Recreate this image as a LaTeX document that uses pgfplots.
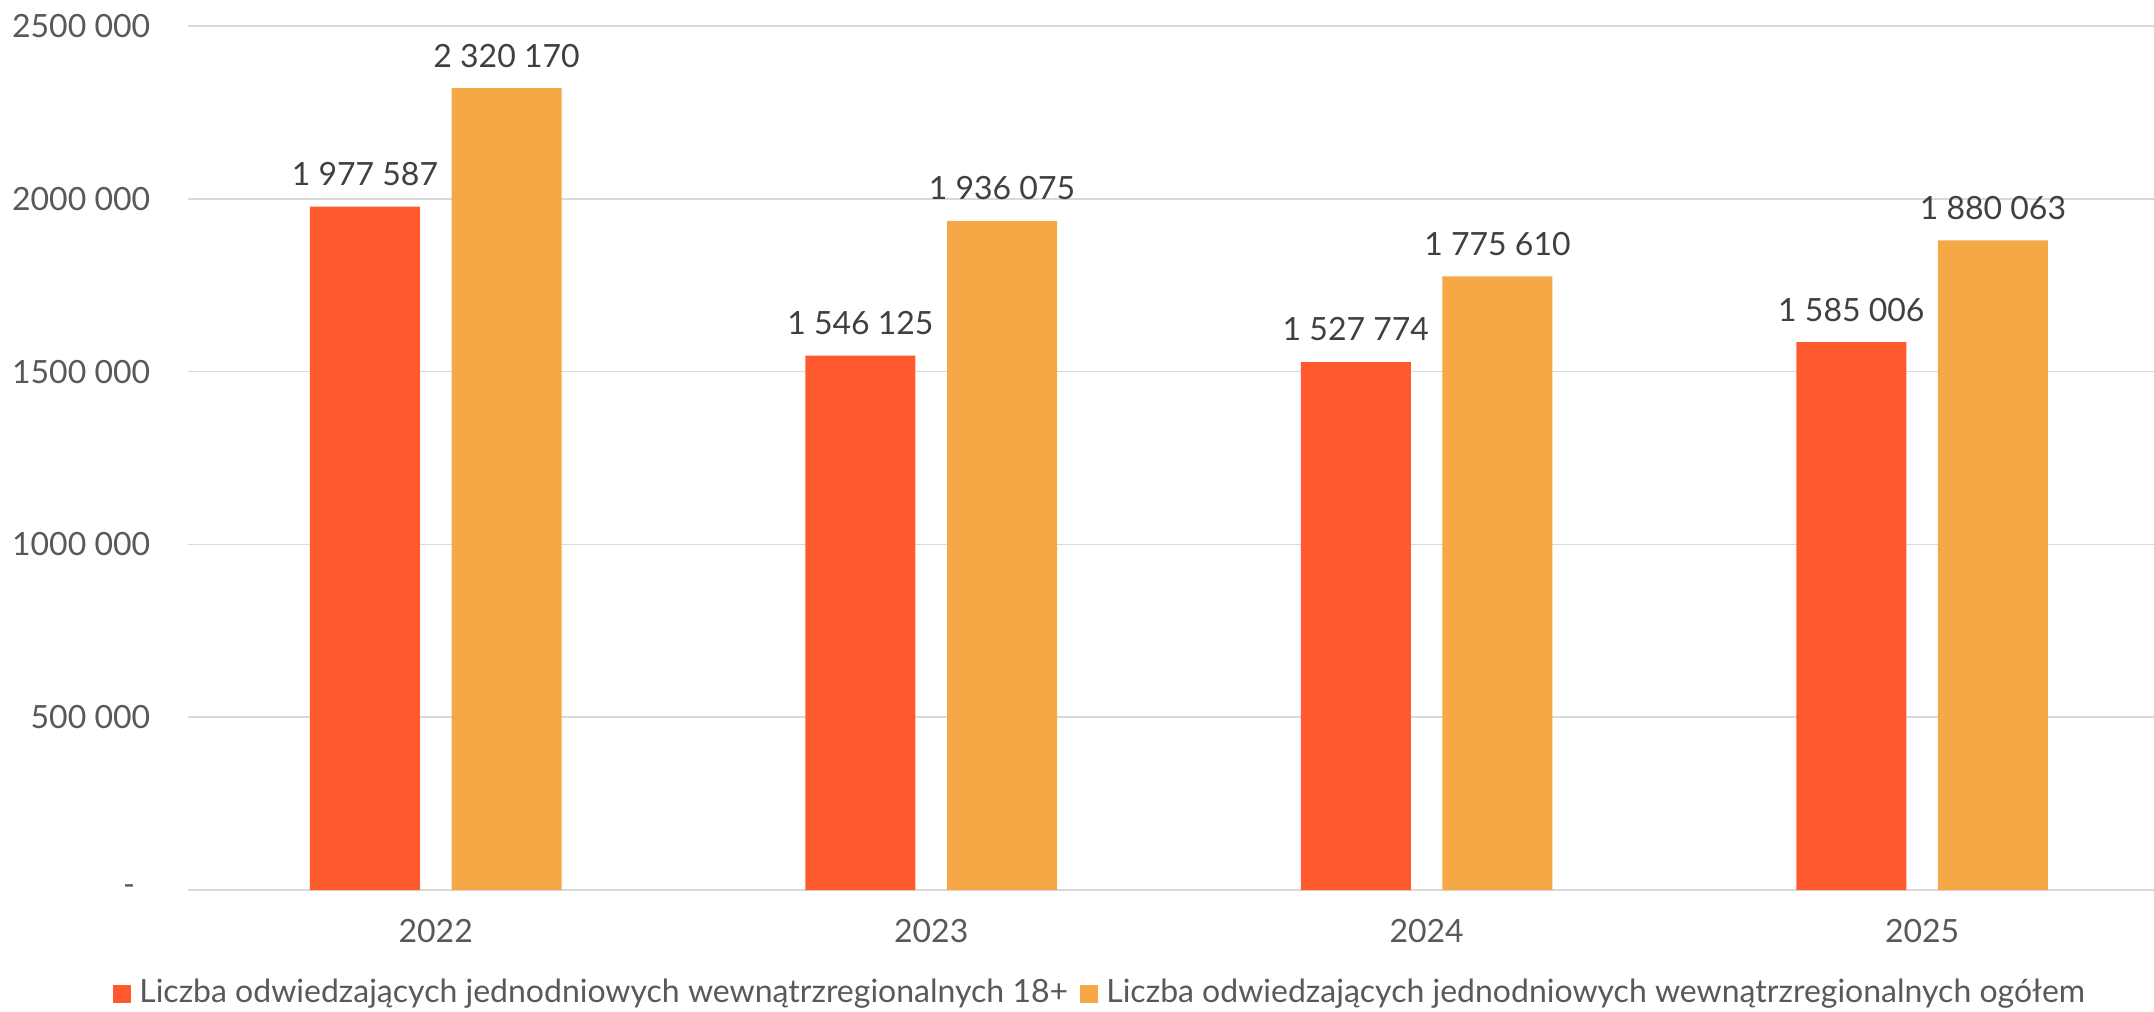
\documentclass[border=0pt]{standalone}
\usepackage{fontspec}
\setmainfont{Lato}
\usepackage{pgfplots}
\pgfplotsset{compat=1.18}
\definecolor{barred}{RGB}{255,90,45}
\definecolor{barorange}{RGB}{245,168,69}
\definecolor{gridgray}{RGB}{217,217,217}
\definecolor{ticktext}{RGB}{89,89,89}
\definecolor{labeltext}{RGB}{64,64,64}
\begin{document}
\begin{tikzpicture}
\useasboundingbox (-47pt,-30.25pt) rectangle (491.5pt,222.5pt);
\begin{axis}[
  at={(0pt,0pt)}, anchor=south west,
  scale only axis, width=491.5pt, height=216pt,
  xmin=-0.5, xmax=3.468, ymin=0, ymax=2500000,
  ybar=7.9pt, bar width=27.5pt,
  axis x line*=bottom, axis y line*=left,
  x axis line style={draw=gridgray, line width=0.6pt, -},
  y axis line style={draw=none},
  ymajorgrids, grid style={gridgray, line width=0.4pt},
  major tick length=0pt,
  xtick={0,1,2,3}, xticklabels={2022,2023,2024,2025},
  ytick={0,500000,1000000,1500000,2000000,2500000},
  yticklabels={{-\rule{3.8pt}{0pt}},500 000,1000 000,1500 000,2000 000,2500 000},
  scaled y ticks=false,
  tick label style={font=\fontsize{8}{9.6}\selectfont, color=ticktext},
  xticklabel style={anchor=base, yshift=-13pt, inner sep=0pt},
  yticklabel style={anchor=east, inner sep=0pt, xshift=-9.25pt},
  nodes near coords={\pgfplotspointmeta}, point meta=explicit symbolic,
  every node near coord/.append style={font=\fontsize{8}{9.6}\selectfont, color=labeltext, anchor=south, inner sep=0pt, yshift=5pt},
  legend style={draw=none, fill=none, at={(0.4655,-0.12)}, anchor=center, legend columns=-1,
    font=\fontsize{8}{9.6}\selectfont, text=ticktext, inner sep=0pt,
    /tikz/every even column/.append style={column sep=1.1pt}},
  legend cell align=left,
]
\addplot[fill=barred, draw=none,
  legend image code/.code={\fill[barred] (0pt,-2.25pt) rectangle (4.5pt,2.25pt);}]
  coordinates {(0,1977587) [1 977 587] (1,1546125) [1 546 125] (2,1527774) [1 527 774] (3,1585006) [1 585 006]};
\addlegendentry{Liczba odwiedzających jednodniowych wewnątrzregionalnych 18+}
\addplot[fill=barorange, draw=none,
  legend image code/.code={\fill[barorange] (0pt,-2.25pt) rectangle (4.5pt,2.25pt);}]
  coordinates {(0,2320170) [2 320 170] (1,1936075) [1 936 075] (2,1775610) [1 775 610] (3,1880063) [1 880 063]};
\addlegendentry{Liczba odwiedzających jednodniowych wewnątrzregionalnych ogółem}
\end{axis}
\end{tikzpicture}
\end{document}
